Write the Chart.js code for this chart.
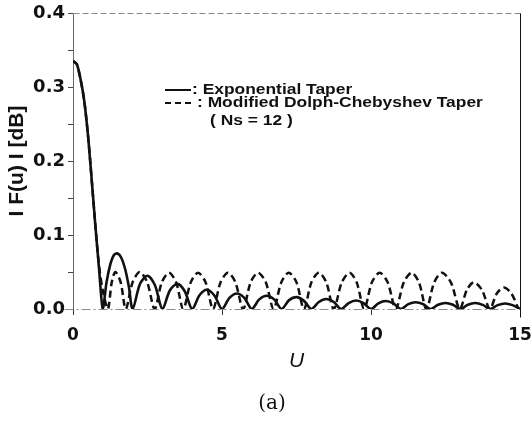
<!DOCTYPE html>
<html>
<head>
<meta charset="utf-8">
<script src="https://cdn.jsdelivr.net/npm/chart.js@4.4.0/dist/chart.umd.min.js"></script>
<style>
  html, body { margin: 0; padding: 0; background: #fff; }
  #chart { display: block; }
</style>
</head>
<body>
<canvas id="chart" width="531" height="423"></canvas>
<script>
// ---- data ----
// Exponential taper (solid line)
const expU = [0, 0.125, 0.25, 0.375, 0.5, 0.625, 0.75, 0.875, 1,
  1.125, 1.25, 1.375, 1.5, 1.625, 1.75, 1.875, 2,
  2.25, 2.5, 2.75, 3, 3.25, 3.5, 3.75, 4, 4.25, 4.5, 4.75, 5,
  5.25, 5.5, 5.75, 6, 6.25, 6.5, 6.75, 7, 7.25, 7.5, 7.75, 8,
  8.25, 8.5, 8.75, 9, 9.25, 9.5, 9.75, 10, 10.25, 10.5, 10.75, 11,
  11.25, 11.5, 11.75, 12, 12.25, 12.5, 12.75, 13, 13.25, 13.5, 13.75, 14,
  14.25, 14.5, 14.75, 15];
const expF = [0.335, 0.331, 0.311, 0.282, 0.236, 0.176, 0.113, 0.054, 0,
  0.036, 0.060, 0.073, 0.075, 0.069, 0.054, 0.030, 0,
  0.034, 0.045, 0.032, 0,
  0.025, 0.034, 0.024, 0,
  0.019, 0.026, 0.018, 0,
  0.015, 0.021, 0.015, 0,
  0.013, 0.018, 0.013, 0,
  0.012, 0.016, 0.011, 0,
  0.0095, 0.0135, 0.0095, 0,
  0.008, 0.0115, 0.008, 0,
  0.0077, 0.0108, 0.0075, 0,
  0.0066, 0.0092, 0.0065, 0,
  0.0058, 0.0082, 0.0058, 0,
  0.0058, 0.0082, 0.0056, 0,
  0.0052, 0.0075, 0.0052, 0];

// Modified Dolph-Chebyshev taper, Ns = 12 (dashed line)
const dcU = [0, 0.125, 0.25, 0.375, 0.5, 0.625, 0.75, 0.875, 1.0, 1.17,
  1.30, 1.42, 1.60, 1.77,
  2.00, 2.24, 2.49, 2.74,
  2.98, 3.22, 3.46, 3.70,
  3.95, 4.20, 4.45, 4.70,
  4.95, 5.20, 5.45, 5.71,
  5.96, 6.21, 6.47, 6.73,
  6.99, 7.24, 7.50, 7.75,
  8.00, 8.25, 8.50, 8.75,
  9.02, 9.28, 9.52, 9.77,
  10.03, 10.29, 10.56, 10.83,
  11.10, 11.36, 11.61, 11.86,
  12.12, 12.38, 12.68, 12.98,
  13.22, 13.45, 13.72, 13.99,
  14.22, 14.46, 14.71, 14.95];
const dcF = [0.335, 0.331, 0.311, 0.282, 0.236, 0.176, 0.113, 0.058, 0.025, 0,
  0.036, 0.050, 0.036, 0,
  0.036, 0.050, 0.036, 0,
  0.036, 0.049, 0.036, 0,
  0.036, 0.049, 0.036, 0,
  0.036, 0.049, 0.036, 0,
  0.036, 0.049, 0.036, 0,
  0.036, 0.049, 0.036, 0,
  0.036, 0.049, 0.036, 0,
  0.036, 0.049, 0.036, 0,
  0.036, 0.049, 0.036, 0,
  0.036, 0.049, 0.036, 0,
  0.036, 0.049, 0.036, 0,
  0.026, 0.036, 0.026, 0,
  0.021, 0.029, 0.021, 0];

const xTicks = [0, 5, 10, 15];
const yTickMarks = [0, 0.05, 0.1, 0.15, 0.2, 0.25, 0.3, 0.35, 0.4];
const yLabels = ['0.0', '', '0.1', '', '0.2', '', '0.3', '', '0.4'];
const legendLabels = [': Exponential Taper', ': Modified Dolph-Chebyshev Taper', '( Ns = 12 )'];
const caption = '(a)';

const toPoints = (us, fs) => us.map((u, i) => ({ x: u, y: fs[i] }));

function seg(ctx, x1, y1, x2, y2) {
  ctx.beginPath();
  ctx.moveTo(x1, y1);
  ctx.lineTo(x2, y2);
  ctx.stroke();
}

// plot frame: solid left/right, dashed top, dash-dot bottom
const framePlugin = {
  id: 'frame',
  beforeDatasetsDraw(chart) {
    const { ctx, chartArea: a } = chart;
    const l = Math.round(a.left) + 0.5, r = Math.round(a.right) + 0.5;
    const t = Math.round(a.top) + 0.5, b = Math.round(a.bottom) + 0.5;
    ctx.save();
    ctx.lineWidth = 1;
    ctx.strokeStyle = '#8c8c8c';
    ctx.setLineDash([6, 3]);
    seg(ctx, l, t, r, t);
    ctx.setLineDash([9, 3, 2, 3]);
    seg(ctx, l - 9, b, r, b);
    ctx.setLineDash([]);
    ctx.strokeStyle = '#666';
    seg(ctx, l, t, l, b);
    ctx.strokeStyle = '#111';
    seg(ctx, r, t, r, b + 8);
    ctx.restore();
  }
};

// hand-made legend and caption, as in the figure
const legendPlugin = {
  id: 'textLegend',
  afterDraw(chart) {
    const { ctx } = chart;
    ctx.save();
    ctx.strokeStyle = '#111';
    ctx.lineWidth = 2;
    seg(ctx, 165, 90, 191, 90);
    ctx.setLineDash([6, 4]);
    seg(ctx, 165, 103, 192, 103);
    ctx.setLineDash([]);
    ctx.fillStyle = '#111';
    ctx.font = 'bold 15px "Liberation Sans", Arial, sans-serif';
    ctx.textBaseline = 'middle';
    const rows = [[192, 90], [197, 103], [210, 121]];
    rows.forEach(([x, y], i) => {
      ctx.save();
      ctx.translate(x, y);
      ctx.scale(1.16, 1);
      ctx.fillText(legendLabels[i], 0, 0);
      ctx.restore();
    });
    ctx.font = '20px "DejaVu Serif", serif';
    ctx.textAlign = 'center';
    ctx.fillText(caption, 272, 404);
    ctx.restore();
  }
};

const tickFont = { family: '"DejaVu Sans", sans-serif', size: 18, weight: 'bold' };

new Chart(document.getElementById('chart'), {
  type: 'line',
  data: {
    datasets: [
      {
        label: 'Exponential Taper',
        data: toPoints(expU, expF),
        borderColor: '#111',
        borderWidth: 2.6,
        pointRadius: 0,
        tension: 0.3,
        fill: false,
        order: 0
      },
      {
        label: 'Modified Dolph-Chebyshev Taper',
        data: toPoints(dcU, dcF),
        borderColor: '#111',
        borderWidth: 2.5,
        borderDash: [7, 4],
        pointRadius: 0,
        tension: 0.3,
        fill: false,
        order: 1
      }
    ]
  },
  options: {
    responsive: false,
    animation: false,
    devicePixelRatio: 1,
    layout: { padding: { top: 13, right: 11, left: 0, bottom: 49 } },
    scales: {
      x: {
        type: 'linear',
        min: 0,
        max: 15,
        afterBuildTicks: s => { s.ticks = xTicks.map(v => ({ value: v })); },
        afterFit: s => { s.height = 65; s.paddingLeft = 0; s.paddingRight = 0; },
        ticks: { font: { ...tickFont, size: 17 }, color: '#111', padding: 10, maxRotation: 0 },
        grid: { drawOnChartArea: false, tickLength: 6, color: '#333' },
        border: { display: false },
        title: {
          display: true,
          text: 'U',
          color: '#111',
          font: { family: '"Liberation Sans", Arial, sans-serif', size: 21, style: 'italic' },
          padding: { top: 0, bottom: 0 }
        }
      },
      y: {
        min: 0,
        max: 0.4,
        afterBuildTicks: s => { s.ticks = yTickMarks.map(v => ({ value: v })); },
        afterFit: s => { s.width = 73; s.paddingTop = 0; s.paddingBottom = 0; },
        ticks: {
          font: tickFont,
          color: '#111',
          padding: 3,
          callback: (v, i) => yLabels[i]
        },
        grid: { drawOnChartArea: false, tickLength: 5, color: '#444' },
        border: { display: false },
        title: {
          display: true,
          text: 'I F(u) I [dB]',
          color: '#111',
          font: { family: '"Liberation Sans", Arial, sans-serif', size: 21, weight: 'bold' },
          padding: { top: 5, bottom: 0 }
        }
      }
    },
    plugins: {
      legend: { display: false },
      tooltip: { enabled: false },
      title: { display: false }
    }
  },
  plugins: [framePlugin, legendPlugin]
});
</script>
</body>
</html>
